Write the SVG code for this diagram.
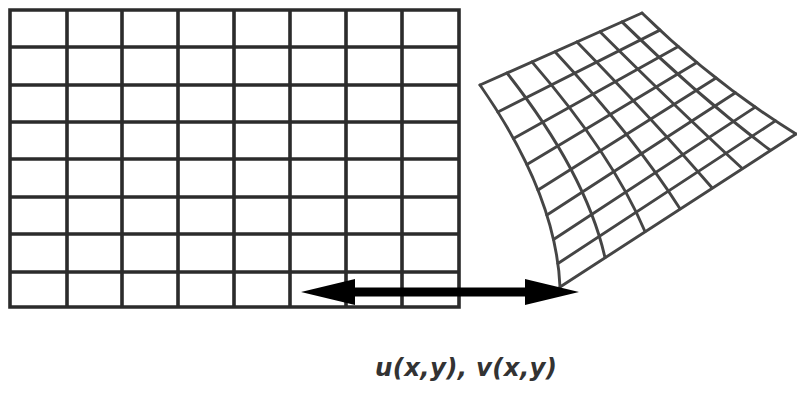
<svg xmlns="http://www.w3.org/2000/svg" width="797" height="393" viewBox="0 0 797 393">
  <style>
    .grid { fill: none; stroke: #2b2b2b; stroke-width: 3.6; stroke-linecap: square; }
    .warp { fill: none; stroke: #454545; stroke-width: 2.9; stroke-linecap: round; stroke-linejoin: round; }
    .arrow { stroke: #000; stroke-width: 9; fill: none; }
    .label { font-family: "DejaVu Sans", "Liberation Sans", sans-serif; font-weight: bold; font-style: italic; font-size: 24.5px; fill: #333; }
  </style>
  <defs>
    <marker id="head" markerUnits="userSpaceOnUse" markerWidth="54" markerHeight="26" refX="25" refY="13" orient="auto-start-reverse" viewBox="0 0 54 26">
      <path d="M0,0 L54,13 L0,26 Z" fill="#000"/>
    </marker>
  </defs>
  <rect width="797" height="393" fill="#fff"/>

  <g id="source-grid">
    <path class="grid" d="M10,10 V307 M67,10 V307 M122,10 V307 M178,10 V307 M234,10 V307 M290,10 V307 M346,10 V307 M402,10 V307 M459,10 V307
             M10,10 H459 M10,47 H459 M10,85 H459 M10,122 H459 M10,159 H459 M10,197 H459 M10,234 H459 M10,272 H459 M10,307 H459"/>
  </g>

  <g id="warped-grid">
    <path class="warp" d="M480,85 Q556,194 560,287
             M507,73 Q586,173.4 605,257.6
             M532,61.9 Q612.5,154.9 645,231.5
             M555,51.7 Q635.5,138.5 680,208.7
             M577,41.9 Q656.5,123.2 712,187.8
             M600,31.7 Q677,108.4 742,168.2
             M622,21.9 Q696,94.5 770,150
             M642,13 Q713,82.5 796,134"/>
    <path class="warp" d="M480,85 L642,13
             M497.9,112 L659.9,30.1
             M513.5,138.5 L678.3,46.6
             M526.9,164.5 L696.9,62.6
             M538,190 L716,78
             M546.9,215 L735.4,92.8
             M553.5,239.5 L755.3,107.1
             M557.9,263.5 L775.4,120.9
             M560,287 L796,134"/>
  </g>

  <g id="connectors">
    <line class="arrow" x1="330" y1="292" x2="550" y2="292" marker-start="url(#head)" marker-end="url(#head)"/>
  </g>

  <g id="label">
    <text class="label" x="375" y="376" textLength="182" lengthAdjust="spacing">u(x,y), v(x,y)</text>
  </g>
</svg>
